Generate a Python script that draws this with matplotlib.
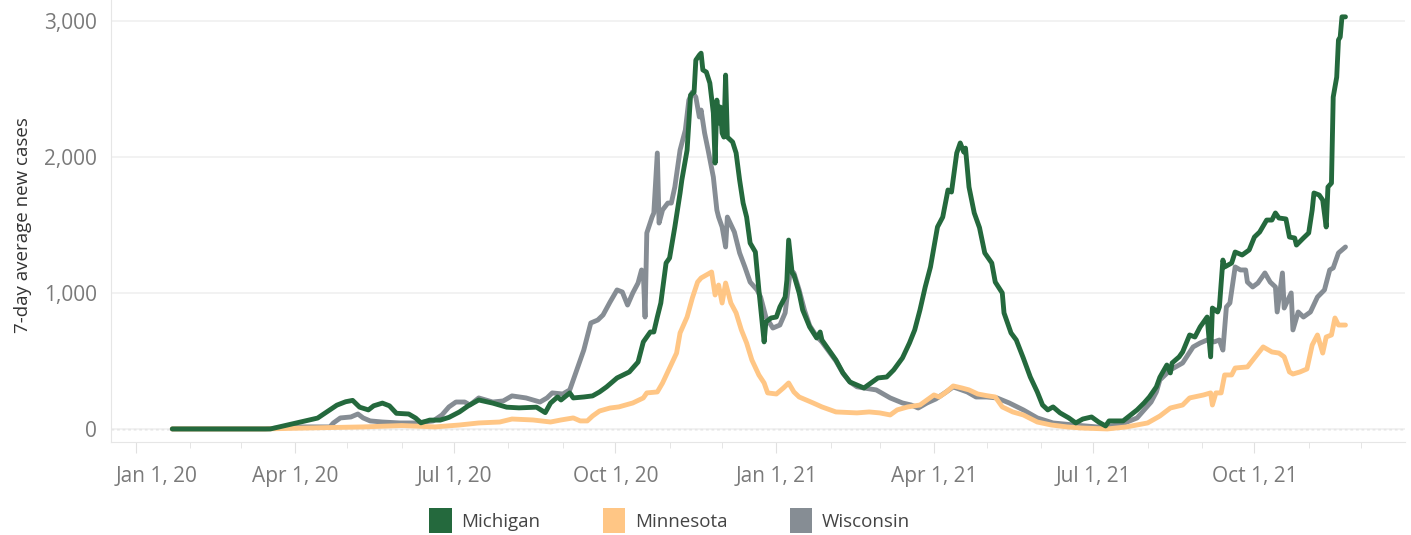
import pandas as pd
import matplotlib
matplotlib.use("Agg")
from matplotlib import pyplot as plt
import matplotlib.dates as mdates
from matplotlib.patches import Patch
from matplotlib.ticker import FuncFormatter

# Michigan
mi_dates = [
    "2020-01-22", "2020-03-12", "2020-03-18", "2020-04-04", "2020-04-14", "2020-04-21", "2020-04-25",
    "2020-04-30", "2020-05-04", "2020-05-08", "2020-05-13", "2020-05-16", "2020-05-21", "2020-05-25",
    "2020-05-29", "2020-06-05", "2020-06-09", "2020-06-12", "2020-06-17", "2020-06-23", "2020-06-28",
    "2020-07-04", "2020-07-09", "2020-07-15", "2020-07-23", "2020-07-31", "2020-08-07", "2020-08-17",
    "2020-08-22", "2020-08-25", "2020-08-29", "2020-08-31", "2020-09-05", "2020-09-07", "2020-09-13",
    "2020-09-18", "2020-09-22", "2020-09-26", "2020-10-02", "2020-10-09", "2020-10-14", "2020-10-17",
    "2020-10-21", "2020-10-23", "2020-10-25", "2020-10-27", "2020-10-30", "2020-11-01", "2020-11-04",
    "2020-11-07", "2020-11-08", "2020-11-11", "2020-11-12", "2020-11-13", "2020-11-15", "2020-11-16",
    "2020-11-18", "2020-11-19", "2020-11-20", "2020-11-22", "2020-11-24", "2020-11-26", "2020-11-27",
    "2020-11-28", "2020-11-29", "2020-11-30", "2020-12-01", "2020-12-02", "2020-12-03", "2020-12-04",
    "2020-12-07", "2020-12-09", "2020-12-11", "2020-12-13", "2020-12-15", "2020-12-17", "2020-12-20",
    "2020-12-22", "2020-12-25", "2020-12-26", "2020-12-29", "2021-01-01", "2021-01-03", "2021-01-06",
    "2021-01-07", "2021-01-08", "2021-01-10", "2021-01-11", "2021-01-14", "2021-01-16", "2021-01-20",
    "2021-01-24", "2021-01-26", "2021-01-27", "2021-01-31", "2021-02-04", "2021-02-08", "2021-02-12",
    "2021-02-16", "2021-02-20", "2021-02-24", "2021-02-28", "2021-03-05", "2021-03-09", "2021-03-14",
    "2021-03-18", "2021-03-21", "2021-03-24", "2021-03-27", "2021-03-30", "2021-04-01", "2021-04-03",
    "2021-04-06", "2021-04-09", "2021-04-11", "2021-04-14", "2021-04-16", "2021-04-18", "2021-04-19",
    "2021-04-21", "2021-04-24", "2021-04-27", "2021-04-30", "2021-05-04", "2021-05-06", "2021-05-10",
    "2021-05-11", "2021-05-15", "2021-05-18", "2021-05-22", "2021-05-26", "2021-05-30", "2021-06-02",
    "2021-06-05", "2021-06-08", "2021-06-12", "2021-06-17", "2021-06-21", "2021-06-25", "2021-06-30",
    "2021-07-04", "2021-07-08", "2021-07-10", "2021-07-18", "2021-07-23", "2021-07-26", "2021-07-30",
    "2021-08-02", "2021-08-06", "2021-08-08", "2021-08-12", "2021-08-14", "2021-08-15", "2021-08-19",
    "2021-08-21", "2021-08-25", "2021-08-28", "2021-08-31", "2021-09-04", "2021-09-06", "2021-09-07",
    "2021-09-10", "2021-09-11", "2021-09-13", "2021-09-14", "2021-09-18", "2021-09-20", "2021-09-24",
    "2021-09-28", "2021-10-01", "2021-10-04", "2021-10-08", "2021-10-11", "2021-10-13", "2021-10-15",
    "2021-10-19", "2021-10-21", "2021-10-24", "2021-10-25", "2021-10-29", "2021-11-01", "2021-11-03",
    "2021-11-04", "2021-11-07", "2021-11-09", "2021-11-11", "2021-11-12", "2021-11-14", "2021-11-15",
    "2021-11-17", "2021-11-18", "2021-11-19", "2021-11-20", "2021-11-22",
]
mi_cases = [
    0, 0, 0, 50, 80, 140, 175,
    200, 210, 160, 140, 170, 190, 170,
    115, 110, 80, 45, 65, 65, 85,
    125, 170, 213, 190, 160, 155, 160,
    120, 190, 235, 213, 265, 228, 235,
    243, 272, 309, 375, 419, 492, 640,
    713, 713, 823, 926, 1220, 1257, 1485,
    1735, 1830, 2050, 2250, 2455, 2477, 2712,
    2749, 2763, 2640, 2624, 2543, 2323, 1955,
    2418, 2250, 2367, 2176, 2146, 2602, 2146,
    2110, 2029, 1830, 1661, 1558, 1367, 1301,
    1022, 640, 786, 816, 823, 897, 970,
    1095, 1389, 1147, 1132, 1000, 875, 750,
    669, 713, 654, 580, 507, 412, 345,
    323, 301, 338, 375, 382, 434, 522,
    632, 728, 875, 1044, 1191, 1338, 1485,
    1558, 1757, 1742, 2029, 2103, 2036, 2065,
    1779, 1588, 1480, 1294, 1220, 1080, 1000,
    853, 706, 654, 522, 382, 272, 176,
    140, 162, 118, 81, 44, 73, 88,
    51, 22, 59, 59, 110, 140, 191,
    235, 309, 380, 470, 412, 485, 530,
    566, 691, 676, 750, 823, 530, 889,
    860, 897, 1242, 1191, 1220, 1301, 1279,
    1316, 1411, 1448, 1536, 1536, 1588, 1551,
    1544, 1411, 1404, 1352, 1404, 1441, 1610,
    1735, 1720, 1683, 1485, 1779, 1808, 2440,
    2587, 2860, 2882, 3030, 3030,
]

# Minnesota
mn_dates = [
    "2020-01-22", "2020-03-15", "2020-04-01", "2020-04-20", "2020-05-10", "2020-06-01", "2020-06-20",
    "2020-07-04", "2020-07-15", "2020-07-27", "2020-08-03", "2020-08-15", "2020-08-25", "2020-08-31",
    "2020-09-07", "2020-09-11", "2020-09-15", "2020-09-18", "2020-09-22", "2020-09-28", "2020-10-03",
    "2020-10-11", "2020-10-17", "2020-10-19", "2020-10-25", "2020-10-28", "2020-11-01", "2020-11-05",
    "2020-11-07", "2020-11-11", "2020-11-14", "2020-11-17", "2020-11-19", "2020-11-22", "2020-11-25",
    "2020-11-27", "2020-11-29", "2020-12-01", "2020-12-03", "2020-12-06", "2020-12-09", "2020-12-12",
    "2020-12-15", "2020-12-18", "2020-12-22", "2020-12-25", "2020-12-27", "2021-01-01", "2021-01-05",
    "2021-01-08", "2021-01-11", "2021-01-14", "2021-01-22", "2021-01-27", "2021-02-04", "2021-02-16",
    "2021-02-23", "2021-03-01", "2021-03-07", "2021-03-11", "2021-03-17", "2021-03-24", "2021-03-28",
    "2021-04-01", "2021-04-04", "2021-04-08", "2021-04-12", "2021-04-17", "2021-04-21", "2021-04-26",
    "2021-05-01", "2021-05-06", "2021-05-10", "2021-05-16", "2021-05-22", "2021-05-30", "2021-06-07",
    "2021-06-16", "2021-06-24", "2021-07-09", "2021-07-20", "2021-08-01", "2021-08-08", "2021-08-14",
    "2021-08-21", "2021-08-25", "2021-09-02", "2021-09-06", "2021-09-07", "2021-09-09", "2021-09-12",
    "2021-09-14", "2021-09-18", "2021-09-20", "2021-09-27", "2021-10-01", "2021-10-06", "2021-10-11",
    "2021-10-15", "2021-10-18", "2021-10-21", "2021-10-23", "2021-10-27", "2021-10-31", "2021-11-03",
    "2021-11-06", "2021-11-09", "2021-11-11", "2021-11-14", "2021-11-16", "2021-11-18", "2021-11-22",
]
mn_cases = [
    0, 0, 5, 10, 15, 25, 15,
    29, 44, 51, 73, 66, 51, 66,
    81, 59, 59, 95, 132, 154, 162,
    191, 228, 265, 272, 338, 448, 558,
    706, 823, 963, 1080, 1110, 1132, 1154,
    985, 1058, 926, 1073, 926, 853, 728,
    632, 507, 397, 338, 265, 257, 301,
    338, 272, 235, 191, 162, 125, 118,
    125, 118, 103, 140, 162, 176, 213,
    250, 235, 272, 316, 301, 287, 257,
    245, 235, 162, 125, 103, 51, 29,
    15, 7, 0, 15, 44, 95, 154,
    176, 228, 250, 265, 176, 265, 265,
    397, 397, 448, 456, 522, 603, 566,
    558, 530, 419, 404, 419, 441, 617,
    691, 558, 676, 691, 816, 764, 764,
]

# Wisconsin
wi_dates = [
    "2020-01-22", "2020-03-15", "2020-04-01", "2020-04-15", "2020-04-21", "2020-04-23", "2020-04-27",
    "2020-05-03", "2020-05-07", "2020-05-10", "2020-05-14", "2020-05-21", "2020-05-31", "2020-06-09",
    "2020-06-19", "2020-06-24", "2020-06-28", "2020-07-02", "2020-07-07", "2020-07-10", "2020-07-15",
    "2020-07-23", "2020-07-29", "2020-08-03", "2020-08-11", "2020-08-19", "2020-08-23", "2020-08-26",
    "2020-09-01", "2020-09-05", "2020-09-09", "2020-09-13", "2020-09-17", "2020-09-21", "2020-09-24",
    "2020-09-28", "2020-10-02", "2020-10-05", "2020-10-08", "2020-10-11", "2020-10-14", "2020-10-16",
    "2020-10-17", "2020-10-18", "2020-10-19", "2020-10-22", "2020-10-23", "2020-10-25", "2020-10-26",
    "2020-10-28", "2020-10-31", "2020-11-02", "2020-11-04", "2020-11-07", "2020-11-10", "2020-11-12",
    "2020-11-14", "2020-11-16", "2020-11-18", "2020-11-19", "2020-11-21", "2020-11-23", "2020-11-26",
    "2020-11-28", "2020-11-29", "2020-12-01", "2020-12-03", "2020-12-04", "2020-12-08", "2020-12-11",
    "2020-12-14", "2020-12-17", "2020-12-21", "2020-12-23", "2020-12-26", "2020-12-30", "2021-01-03",
    "2021-01-06", "2021-01-09", "2021-01-11", "2021-01-14", "2021-01-17", "2021-01-20", "2021-01-24",
    "2021-01-27", "2021-01-31", "2021-02-04", "2021-02-08", "2021-02-12", "2021-02-16", "2021-02-20",
    "2021-02-27", "2021-03-07", "2021-03-14", "2021-03-19", "2021-03-23", "2021-03-28", "2021-04-02",
    "2021-04-08", "2021-04-12", "2021-04-20", "2021-04-25", "2021-05-01", "2021-05-07", "2021-05-14",
    "2021-05-22", "2021-05-30", "2021-06-08", "2021-06-20", "2021-07-03", "2021-07-16", "2021-07-26",
    "2021-08-03", "2021-08-06", "2021-08-08", "2021-08-14", "2021-08-21", "2021-08-27", "2021-08-31",
    "2021-09-04", "2021-09-08", "2021-09-11", "2021-09-13", "2021-09-15", "2021-09-17", "2021-09-20",
    "2021-09-23", "2021-09-26", "2021-09-27", "2021-09-30", "2021-10-03", "2021-10-07", "2021-10-10",
    "2021-10-13", "2021-10-14", "2021-10-17", "2021-10-18", "2021-10-22", "2021-10-23", "2021-10-26",
    "2021-10-29", "2021-11-02", "2021-11-06", "2021-11-10", "2021-11-13", "2021-11-15", "2021-11-18",
    "2021-11-22",
]
wi_cases = [
    0, 0, 15, 15, 15, 44, 81,
    88, 110, 81, 59, 51, 44, 44,
    59, 103, 162, 198, 198, 176, 228,
    198, 206, 243, 228, 198, 228, 265,
    257, 287, 434, 580, 779, 801, 838,
    933, 1022, 1007, 911, 1000, 1073, 1169,
    1147, 823, 1441, 1558, 1588, 2029, 1514,
    1610, 1661, 1661, 1779, 2051, 2198, 2418,
    2477, 2440, 2294, 2345, 2176, 2051, 1852,
    1610, 1558, 1485, 1338, 1558, 1448, 1294,
    1191, 1080, 1022, 970, 823, 742, 764,
    853, 1169, 1147, 1022, 875, 760, 680,
    640, 570, 500, 410, 345, 310, 301,
    287, 228, 191, 176, 154, 191, 220,
    272, 309, 272, 235, 235, 228, 191,
    140, 81, 44, 29, 15, 29, 81,
    198, 272, 360, 434, 485, 603, 632,
    654, 640, 654, 580, 897, 926, 1191,
    1169, 1169, 1080, 1044, 1073, 1147, 1080,
    1044, 860, 1147, 889, 1000, 728, 860,
    823, 860, 970, 1022, 1169, 1184, 1294,
    1338,
]

states = ["Michigan", "Minnesota", "Wisconsin"]
colors = ["#24693d", "#ffc685", "#868d94"]

plt.rcParams["font.family"] = ["Open Sans", "DejaVu Sans"]

fig = plt.figure(figsize=(14.11, 5.35), dpi=100)
ax = fig.add_axes([111 / 1411, 1 - 442 / 535, (1405 - 111) / 1411, 442 / 535])

series = {
    "Wisconsin": (wi_dates, wi_cases, colors[2]),
    "Minnesota": (mn_dates, mn_cases, colors[1]),
    "Michigan": (mi_dates, mi_cases, colors[0]),
}
for name, (d, v, c) in series.items():
    ax.plot(pd.to_datetime(d), v, color=c, lw=3.5,
            solid_joinstyle="round", solid_capstyle="round")

ax.set_xlim(pd.Timestamp("2019-12-18"), pd.Timestamp("2021-12-26"))
ax.set_ylim(-96, 3154)

ax.set_yticks([0, 1000, 2000, 3000])
ax.yaxis.set_major_formatter(FuncFormatter(lambda v, p: f"{int(v):,}"))
ax.tick_params(axis="y", length=0, pad=10, labelsize=15, labelcolor="#7a7a7a")
ax.grid(axis="y", color="#f0f0f0", lw=1.2)
ax.axhline(0, color="#b8b8b8", lw=1, ls=(0, (2, 2)), zorder=0.5)


def date_label(v, p):
    d = mdates.num2date(v)
    # the first label is shifted right so it stays inside the plot (drawn below)
    if d.year == 2020 and d.month == 1:
        return ""
    return f"{d:%b} {d.day}, {d:%y}"


ax.xaxis.set_major_locator(mdates.MonthLocator(bymonth=[1, 4, 7, 10]))
ax.xaxis.set_minor_locator(mdates.MonthLocator())
ax.xaxis.set_major_formatter(FuncFormatter(date_label))
ax.tick_params(axis="x", which="major", length=8, color="#e0e0e0", pad=9,
               labelsize=15, labelcolor="#7a7a7a")
ax.tick_params(axis="x", which="minor", length=4, color="#e0e0e0")
ax.annotate("Jan 1, 20", xy=(pd.Timestamp("2020-01-01"), 0),
            xycoords=("data", "axes fraction"), xytext=(15, -17.5),
            textcoords="offset points", ha="center", va="top",
            fontsize=15, color="#7a7a7a", annotation_clip=False)

for s in ["top", "right"]:
    ax.spines[s].set_visible(False)
for s in ["left", "bottom"]:
    ax.spines[s].set_color("#e6e6e6")

ax.set_ylabel("7-day average new cases", fontsize=13.5, color="#333333")
ax.yaxis.set_label_coords(-0.061, 0.49)

handles = [Patch(facecolor=c, edgecolor="none") for c in colors]
fig.legend(handles, states, loc="lower center", bbox_to_anchor=(0.4745, -0.028), ncol=3,
           frameon=False, fontsize=13.5, handlelength=1.2, handleheight=1.65,
           handletextpad=0.5, columnspacing=3.35, labelcolor="#444444")

fig.savefig("out.png", dpi=100)
